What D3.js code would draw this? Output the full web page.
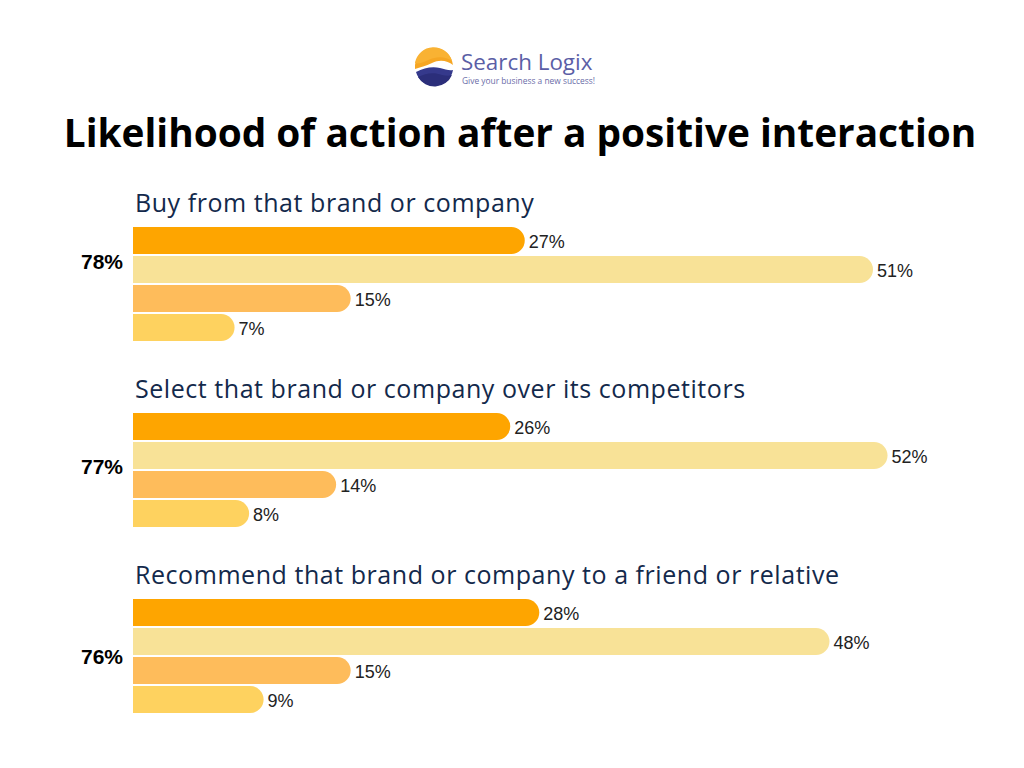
<!DOCTYPE html>
<html><head><meta charset="utf-8">
<script src="https://cdn.jsdelivr.net/npm/d3@7"></script>
<style>body{margin:0;background:#fff}svg{display:block}</style>
</head><body>
<svg id="c" width="1024" height="768"></svg>
<script>
const title = "Likelihood of action after a positive interaction";
const groups = ["Buy from that brand or company", "Select that brand or company over its competitors", "Recommend that brand or company to a friend or relative"];
const totals = ["78%", "77%", "76%"];
const seriesKeys = ["s1", "s2", "s3", "s4"];
const values = [
  [27, 51, 15, 7],
  [26, 52, 14, 8],
  [28, 48, 15, 9]
];
const colors = ["#FEA500", "#F8E297", "#FEBC5B", "#FED25F"];

const svg = d3.select("#c");
svg.append("rect").attr("width",1024).attr("height",768).attr("fill","#fff");

// logo
const logo = svg.append("g").attr("transform","translate(434,67)");
logo.append("path").attr("d","M-19,2 A19,19 0 0 1 19,-2 C14,-6 6,-8 -2,-4 C-8,-1 -14,0 -19,2 Z").attr("fill","#F6A623");
logo.append("path").attr("d","M-19,-4 A19,19 0 0 1 18,-6 C10,-12 0,-10 -8,-6 C-12,-4 -16,-3 -19,-4 Z").attr("fill","#F9B233");
logo.append("path").attr("d","M-18,5 C-10,1 -2,-1 6,1 C11,2 15,4 19,3 A19,19 0 0 1 -18,5 Z").attr("fill","#35398C");
logo.append("path").attr("d","M-16,10 C-8,6 0,5 8,8 C12,9 16,9 18,8 A19,19 0 0 1 -16,10 Z").attr("fill","#2B2E7A");
svg.append("text").attr("x",461).attr("y",69.5).attr("font-family","'Open Sans',sans-serif").attr("font-size",22.4).attr("fill","#5B5EA6").text("Search Logix");
svg.append("text").attr("x",462).attr("y",84).attr("font-family","'Open Sans',sans-serif").attr("font-size",8.4).attr("fill","#6A6CA8").text("Give your business a new success!");

svg.append("text").attr("x",520).attr("y",147).attr("text-anchor","middle")
  .attr("font-family","'Open Sans',sans-serif").attr("font-weight",700).attr("font-size",38.8).attr("fill","#000").text(title);

const x = d3.scaleLinear().domain([0,100]).range([133, 133+1451]);
const gy = d3.scaleBand().domain(d3.range(groups.length)).range([227, 227+186*groups.length]);
const by = d3.scaleBand().domain(d3.range(seriesKeys.length)).range([0,114]).paddingInner(2/29).paddingOuter(0);
const totalOffset = [35, 54, 58];

groups.forEach((g, gi) => {
  const top = gy(gi);
  svg.append("text").attr("x",135).attr("y",top-15)
    .attr("font-family","'Open Sans',sans-serif").attr("font-size",25).attr("letter-spacing",0.55).attr("fill","#13294B").text(g);
  svg.append("text").attr("x",123).attr("y",top+totalOffset[gi]).attr("dy","0.35em").attr("text-anchor","end")
    .attr("font-family","'Liberation Sans',Arial,sans-serif").attr("font-weight",700).attr("font-size",21).attr("fill","#000").text(totals[gi]);
  values[gi].forEach((v, i) => {
    const y0 = top + by(i), h = by.bandwidth(), x0 = x(0), x1 = x(v), r = h/2;
    const p = d3.path();
    p.moveTo(x0, y0); p.lineTo(x1 - r, y0);
    p.arc(x1 - r, y0 + r, r, -Math.PI/2, Math.PI/2);
    p.lineTo(x0, y0 + h); p.closePath();
    svg.append("path").attr("d", p.toString()).attr("fill", colors[i]);
    svg.append("text").attr("x", x1 + 4).attr("y", y0 + h/2 + 1).attr("dy","0.35em")
      .attr("font-family","'Liberation Sans',Arial,sans-serif").attr("font-size",18).attr("fill","#222").text(v + "%");
  });
});
</script>
</body></html>
